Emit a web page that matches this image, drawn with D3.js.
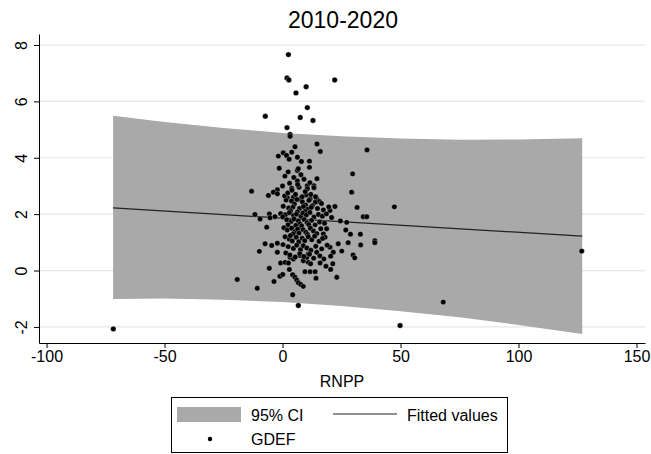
<!DOCTYPE html>
<html>
<head>
<meta charset="utf-8">
<script src="https://cdn.jsdelivr.net/npm/d3@7"></script>
<style>
  body { margin: 0; background: #fff; }
  text { font-family: "Liberation Sans", Arial, sans-serif; fill: #000; }
</style>
</head>
<body>
<div id="chart"></div>
<script>
// ticks
const xTicks = [-100, -50, 0, 50, 100, 150];
const yTicks = [-2, 0, 2, 4, 6, 8];

// 95% CI band
const ciX  = [-71.8, -50, -25, 0, 25, 50, 75, 100, 127];
const ciHi = [5.49, 5.27, 5.06, 4.88, 4.76, 4.68, 4.64, 4.65, 4.69];
const ciLo = [-1.01, -0.99, -1.04, -1.12, -1.26, -1.44, -1.66, -1.93, -2.25];

// fitted values
const fitX = [-71.8, 127];
const fitY = [2.22, 1.22];

// GDEF vs RNPP
const gdef = [
  [-71.7,-2.07],[49.8,-1.95],[68.1,-1.12],[126.8,0.69],[47.4,2.26],
  [2.5,7.66],[1.9,6.83],[2.7,6.76],[22.1,6.76],[10.0,6.52],[5.7,6.30],[10.5,5.78],
  [-7.3,5.47],[7.5,5.43],[12.9,5.32],[1.9,5.07],[3.2,4.83],[3.2,4.76],[5.3,4.39],
  [14.6,4.49],[35.8,4.28],[16.0,4.22],[0.3,4.18],[-1.8,4.06],[1.7,4.08],[2.8,3.95],
  [3.9,4.2],[6.3,4.02],[8.0,3.87],[11.4,3.88],[11.4,3.66],[-1.4,3.63],[6.3,3.55],
  [6.7,3.61],[29.7,3.43],[6.3,3.18],[9.1,3.24],[14.6,3.26],
  [-13.1,2.81],[-2.2,2.87],[-3.9,2.78],[-2.2,2.72],[-6.0,2.66],[3.9,2.92],[10.5,3.01],
  [10.5,2.90],[13.3,3.01],[13.3,2.94],[29.3,2.78],[2.0,2.58],[4.6,2.60],[7.4,2.54],
  [10.0,2.68],[11.7,2.54],[14.5,2.54],[15.6,2.45],
  [-11.7,1.99],[-9.5,1.83],[-5.6,2.01],[-5.3,1.87],[-3.2,1.91],[-6.7,1.54],
  [-7.4,0.95],[-4.6,0.89],[-9.8,0.68],[-2.2,0.65],[-2.2,0.97],
  [22.2,2.27],[20.1,2.13],[31.6,2.24],[34.2,1.91],[35.7,1.91],[24.5,1.76],[27.2,1.71],
  [26.8,1.44],[28.8,1.29],[33.0,1.29],[18.7,1.48],[17.3,1.30],[18.0,1.18],[23.6,0.95],
  [27.8,0.99],[33.1,0.91],[39.1,1.06],[39.1,0.99],[20.1,0.83],[21.5,0.65],[25.1,0.69],
  [29.9,0.55],[30.6,0.45],
  [-19.2,-0.32],[-10.7,-0.63],[-5.6,0.08],[-3.6,-0.39],[-1.1,-0.20],[0.1,-0.14],
  [-0.8,0.27],[1.1,0.29],[2.5,0.27],[2.9,0.04],[4.3,-0.15],[5.3,-0.24],[6.0,-0.33],
  [6.7,-0.43],[7.7,-0.49],[8.8,-0.56],[4.3,-0.86],[6.7,-1.24],[9.5,-0.04],[11.7,-0.04],
  [13.8,-0.04],[14.2,-0.27],[15.9,0.27],[18.4,0.15],[20.4,0.04],[21.3,0.24],[23.0,-0.24],
  [20.4,0.51],[10.9,0.29],[11.9,0.24],[8.8,0.35],[3.2,0.47],[4.6,0.41],
  [10.3,0.47],[7.4,0.53],[14.5,0.65],[10.9,0.59],
  // dense core
  [1.5,2.5],[3.8,2.47],[6.1,2.52],[8.4,2.44],[11.2,2.49],[13.9,2.42],[16.5,2.38],[5.0,2.36],
  [9.8,2.33],[12.6,2.3],[0.3,2.28],[2.6,2.22],[4.4,2.25],[7.2,2.2],[8.9,2.27],[10.7,2.18],
  [12.1,2.24],[14.8,2.2],[17.3,2.15],[19.6,2.26],[3.4,2.12],[6.3,2.08],[9.5,2.1],
  [-0.8,2.02],[1.2,1.98],[2.9,2.05],[4.7,1.95],[5.9,2.0],[7.8,1.92],[8.6,2.04],[10.1,1.97],
  [11.6,2.06],[13.3,1.9],[15.2,1.99],[16.9,1.93],[18.6,2.01],[20.8,1.88],[0.1,1.9],
  [1.8,1.8],[3.6,1.74],[4.9,1.83],[6.7,1.76],[7.4,1.65],[9.2,1.81],[10.4,1.7],[12.3,1.78],
  [13.8,1.62],[15.7,1.72],[17.8,1.68],[2.3,1.62],[5.6,1.6],[8.1,1.58],[11.1,1.63],
  [0.6,1.52],[2.0,1.44],[3.9,1.5],[5.2,1.38],[6.4,1.47],[7.0,1.33],[8.7,1.45],[9.9,1.36],
  [11.8,1.5],[13.1,1.4],[14.5,1.31],[16.2,1.48],[4.4,1.3],[10.6,1.28],
  [1.1,1.2],[2.8,1.12],[4.1,1.05],[5.8,1.18],[6.9,1.02],[8.3,1.15],[9.4,1.06],[10.9,1.2],
  [12.4,1.09],[13.6,1.22],[15.5,1.04],[17.0,1.14],[3.3,1.24],
  [0.2,0.92],[2.4,0.85],[4.6,0.78],[6.0,0.9],[7.6,0.74],[8.8,0.88],[10.3,0.8],[12.0,0.72],
  [14.1,0.86],[16.6,0.77],[18.9,0.9],
  [1.4,0.62],[3.1,0.55],[5.4,0.48],[7.3,0.6],[9.0,0.5],[11.4,0.58],[13.2,0.44],[15.8,0.52],
  [17.5,0.41],
  [0.9,2.65],[2.2,2.75],[4.0,2.85],[5.5,2.7],[7.0,2.95],[8.3,2.62],[9.6,2.8],[12.0,2.7],
  [14.0,2.62],[6.4,3.05],[3.0,3.1],[1.0,3.35],[2.4,3.5],[4.8,3.3],[7.8,3.4],[11.6,3.12],[0.0,3.0]
];

const width = 651, height = 454;
const plot = { left: 39, right: 645, top: 34, bottom: 343 };

const svg = d3.select("#chart")
    .append("svg")
    .attr("width", width)
    .attr("height", height)
;

const x = d3.scaleLinear().domain([-103.2, 153.6]).range([plot.left, plot.right]);
const y = d3.scaleLinear().domain([-2.57, 8.39]).range([plot.bottom, plot.top]);

// title
svg.append("text")
    .attr("x", 343)
    .attr("y", 28)
    .attr("text-anchor", "middle")
    .style("font-size", "23px")
    .text("2010-2020")
;

// horizontal grid
svg.append("g")
    .selectAll("line")
    .data(yTicks)
    .join("line")
    .attr("x1", plot.left)
    .attr("x2", plot.right)
    .attr("y1", d => y(d))
    .attr("y2", d => y(d))
    .style("stroke", "#e6e6e6")
    .style("stroke-width", 1.2)
;

// CI band
const ci = ciX.map((d, i) => ({ x: d, lo: ciLo[i], hi: ciHi[i] }));
svg.append("path")
    .datum(ci)
    .attr("d", d3.area().x(d => x(d.x)).y0(d => y(d.lo)).y1(d => y(d.hi)))
    .style("fill", "#a9a9a9")
;

// fitted line
svg.append("path")
    .datum(fitX.map((d, i) => [d, fitY[i]]))
    .attr("d", d3.line().x(d => x(d[0])).y(d => y(d[1])))
    .style("fill", "none")
    .style("stroke", "#222")
    .style("stroke-width", 1.2)
;

// points
svg.append("g")
    .selectAll("circle")
    .data(gdef)
    .join("circle")
    .attr("cx", d => x(d[0]))
    .attr("cy", d => y(d[1]))
    .attr("r", 2.7)
    .style("fill", "#000")
    .style("stroke", "#fff")
    .style("stroke-opacity", 0.45)
    .style("stroke-width", 0.6)
;

// axes (plain hyphen minus, like the original)
const xAxis = svg.append("g")
    .attr("transform", `translate(0,${plot.bottom})`)
    .call(d3.axisBottom(x).tickValues(xTicks).tickSize(5).tickSizeOuter(0).tickFormat(d => String(d)))
;
xAxis.selectAll("text").style("font-size", "16px").attr("y", 8).attr("dy", "0.71em");

const yAxis = svg.append("g")
    .attr("transform", `translate(${plot.left},0)`)
    .call(d3.axisLeft(y).tickValues(yTicks).tickSize(5).tickSizeOuter(0).tickFormat(d => String(d)))
;
yAxis.selectAll("text")
    .style("font-size", "16px")
    .attr("x", 0)
    .attr("dy", 0)
    .attr("text-anchor", "middle")
    .attr("transform", "translate(-12,0) rotate(-90)")
;
svg.selectAll(".domain, .tick line").style("stroke", "#000").style("stroke-width", 1);
svg.selectAll(".tick text").style("font-family", "'Liberation Sans', Arial, sans-serif");

// axis title
svg.append("text")
    .attr("x", 342)
    .attr("y", 387)
    .attr("text-anchor", "middle")
    .style("font-size", "16px")
    .text("RNPP")
;

// legend
const lg = svg.append("g");
lg.append("rect")
    .attr("x", 171.5).attr("y", 397.5)
    .attr("width", 336).attr("height", 55)
    .style("fill", "#fff").style("stroke", "#000").style("stroke-width", 1);
lg.append("rect")
    .attr("x", 177).attr("y", 407)
    .attr("width", 64).attr("height", 15)
    .style("fill", "#a9a9a9");
lg.append("text").attr("x", 251).attr("y", 421).style("font-size", "16px").text("95% CI");
lg.append("line")
    .attr("x1", 333).attr("x2", 397).attr("y1", 414).attr("y2", 414)
    .style("stroke", "#222").style("stroke-width", 1.2);
lg.append("text").attr("x", 407).attr("y", 421).style("font-size", "16px").text("Fitted values");
lg.append("circle").attr("cx", 210).attr("cy", 439).attr("r", 2.2).style("fill", "#000");
lg.append("text").attr("x", 251).attr("y", 445).style("font-size", "16px").text("GDEF");
</script>
</body>
</html>
